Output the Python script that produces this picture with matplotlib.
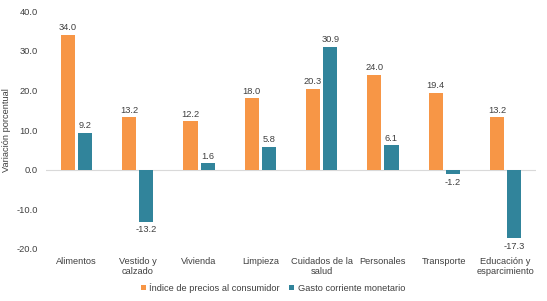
import numpy as np
import matplotlib.pyplot as plt

plt.rcParams["font.family"] = ["Liberation Sans", "DejaVu Sans"]

categories = ["Alimentos", "Vestido y\ncalzado", "Vivienda", "Limpieza",
              "Cuidados de la\nsalud", "Personales", "Transporte",
              "Educación y\nesparcimiento"]
ipc = [34.0, 13.2, 12.2, 18.0, 20.3, 24.0, 19.4, 13.2]
gasto = [9.2, -13.2, 1.6, 5.8, 30.9, 6.1, -1.2, -17.3]
series_names = ["Índice de precios al consumidor", "Gasto corriente monetario"]

ORANGE = "#F79646"
TEAL = "#31849B"
TXT = "#404040"
FS = 6.7

fig = plt.figure(figsize=(5.47, 3.01), dpi=100)
ax = fig.add_axes([0.084, 0.173, 0.896, 0.790])

x = np.arange(len(categories))
w = 0.23
off = 0.14
b1 = ax.bar(x - off, ipc, w, color=ORANGE, label=series_names[0])
b2 = ax.bar(x + off, gasto, w, color=TEAL, label=series_names[1])

for bars, vals in ((b1, ipc), (b2, gasto)):
    for rect, v in zip(bars, vals):
        cx = rect.get_x() + rect.get_width() / 2
        if v >= 0:
            ax.annotate(f"{v:.1f}", (cx, v), xytext=(0, 2), textcoords="offset points",
                        ha="center", va="bottom", fontsize=FS, color=TXT)
        else:
            ax.annotate(f"{v:.1f}", (cx, v), xytext=(0, -2.5), textcoords="offset points",
                        ha="center", va="top", fontsize=FS, color=TXT)

ax.axhline(0, color="#D9D9D9", lw=0.8, zorder=0)
ax.set_ylim(-20, 40)
ax.set_xlim(-0.5, len(categories) - 0.5)
ax.set_yticks(np.arange(-20, 41, 10))
ax.set_yticklabels([f"{t:.1f}" for t in np.arange(-20, 41, 10)])
ax.set_xticks(x)
ax.set_xticklabels(categories, fontsize=FS, color=TXT, linespacing=1.1)
ax.tick_params(axis="x", length=0, pad=6)
ax.tick_params(axis="y", length=0, labelsize=FS, labelcolor=TXT, pad=6)
for s in ax.spines.values():
    s.set_visible(False)
ax.set_ylabel("Variación porcentual", fontsize=FS, color=TXT)
ax.yaxis.set_label_coords(-0.071, 0.5)

ax.legend(loc="center", bbox_to_anchor=(0.463, -0.164), ncol=2, frameon=False,
          fontsize=FS, handlelength=0.55, handleheight=0.55, handletextpad=0.35,
          columnspacing=1.0, labelcolor=TXT)

fig.savefig("out.png", dpi=100)
